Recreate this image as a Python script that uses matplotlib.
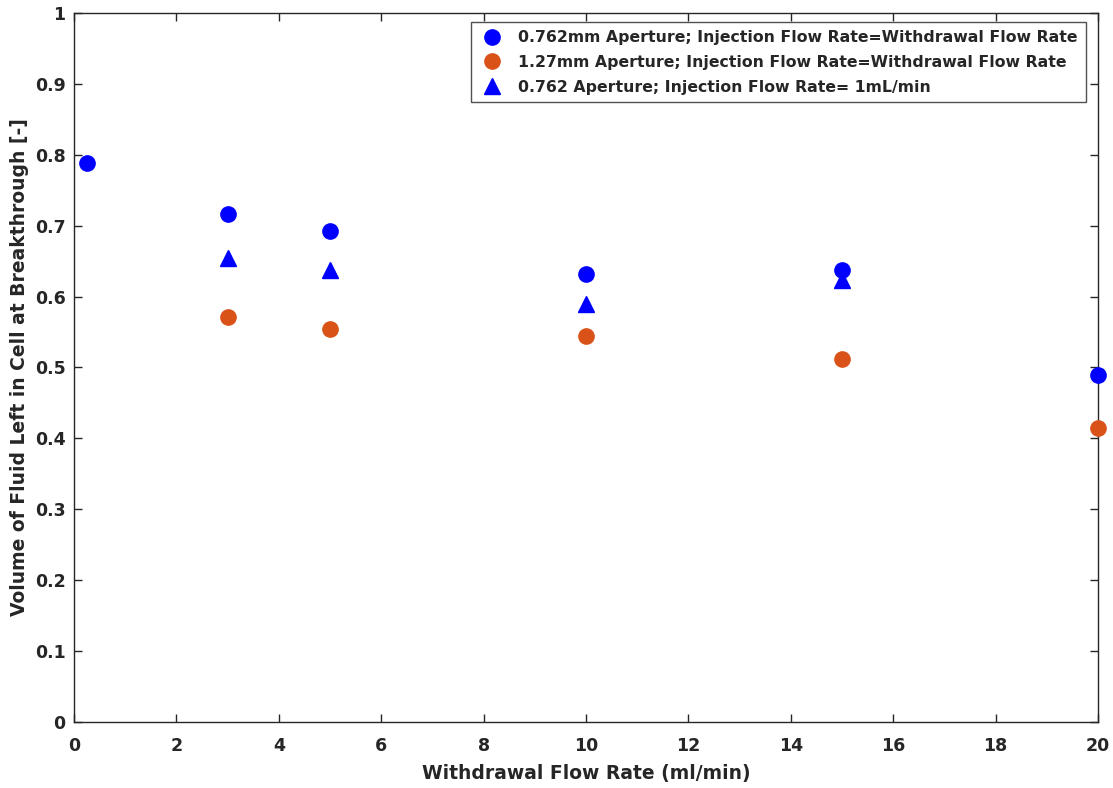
import matplotlib
matplotlib.use("Agg")
import matplotlib.pyplot as plt

plt.rcParams['font.family'] = ['DejaVu Sans']

x_blue = [0.25, 3, 5, 10, 15, 20]
y_blue = [0.789, 0.717, 0.692, 0.632, 0.638, 0.489]
x_orange = [3, 5, 10, 15, 20]
y_orange = [0.571, 0.554, 0.545, 0.512, 0.415]
x_tri = [3, 5, 10, 15]
y_tri = [0.654, 0.637, 0.590, 0.624]

labels = ["0.762mm Aperture; Injection Flow Rate=Withdrawal Flow Rate",
          "1.27mm Aperture; Injection Flow Rate=Withdrawal Flow Rate",
          "0.762 Aperture; Injection Flow Rate= 1mL/min"]

fig = plt.figure(figsize=(11.13, 7.88), dpi=100)
ax = fig.add_axes([0.0665, 0.0838, 0.92, 0.8997])

tc = '#262626'
ax.plot(x_blue, y_blue, 'o', color='#0000FF', markersize=11, linestyle='none', label=labels[0], clip_on=False, zorder=3)
ax.plot(x_orange, y_orange, 'o', color='#D95319', markersize=11, linestyle='none', label=labels[1], clip_on=False, zorder=3)
ax.plot(x_tri, y_tri, '^', color='#0000FF', markersize=11, linestyle='none', label=labels[2], clip_on=False, zorder=3)

ax.set_xlim(0, 20)
ax.set_ylim(0, 1)
ax.set_xticks(range(0, 21, 2))
ax.set_yticks([i / 10 for i in range(11)])
ax.set_yticklabels(['0', '0.1', '0.2', '0.3', '0.4', '0.5', '0.6', '0.7', '0.8', '0.9', '1'])
ax.tick_params(direction='in', top=True, right=True, length=6, width=1, colors=tc,
               labelsize=12.5, pad=6)
ax.tick_params(axis='x', pad=11)
for lab in ax.get_xticklabels() + ax.get_yticklabels():
    lab.set_fontweight('bold')
for s in ax.spines.values():
    s.set_color(tc)
    s.set_linewidth(1)

ax.set_xlabel('Withdrawal Flow Rate (ml/min)', fontsize=13.5, fontweight='bold', color=tc, labelpad=6)
ax.set_ylabel('Volume of Fluid Left in Cell at Breakthrough [-]', fontsize=13.5, fontweight='bold', color=tc, labelpad=4)

leg = ax.legend(loc='upper right', bbox_to_anchor=(0.988, 0.987), fontsize=11.3,
                frameon=True, fancybox=False, edgecolor=tc, borderpad=0.5,
                handletextpad=0.9, labelspacing=0.62, handlelength=1.6, borderaxespad=0)
leg.get_frame().set_linewidth(1)
for t in leg.get_texts():
    t.set_fontweight('bold')
    t.set_color(tc)

fig.savefig('out.png', dpi=100)
